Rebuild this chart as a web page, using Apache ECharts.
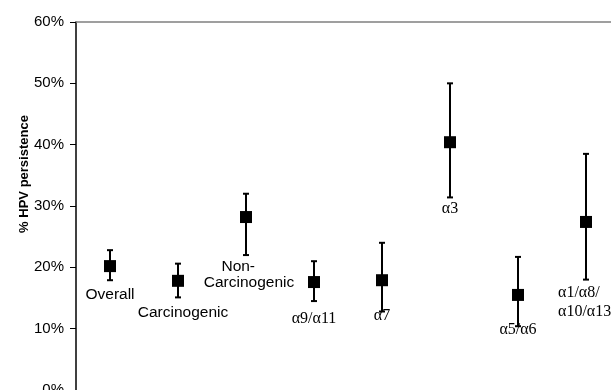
<!DOCTYPE html>
<html>
<head>
<meta charset="utf-8">
<script src="https://cdn.jsdelivr.net/npm/echarts@6/dist/echarts.min.js"></script>
<style>html,body{margin:0;padding:0;background:#fff}#c{width:611px;height:390px}</style>
</head>
<body>
<div id="c"></div>
<script>
var categories = ['Overall','Carcinogenic','Non-Carcinogenic','α9/α11','α7','α3','α5/α6','α1/α8/α10/α13'];
var estimate = [20.2, 17.8, 28.2, 17.6, 17.9, 40.4, 15.5, 27.4];
var lower    = [17.9, 15.1, 22.0, 14.5, 12.8, 31.4, 10.4, 18.0];
var upper    = [22.8, 20.6, 32.0, 21.0, 24.0, 50.0, 21.7, 38.5];
var labelText = ['Overall','Carcinogenic','Non-     \nCarcinogenic','α9/α11','α7','α3','α5/α6','α1/α8/\nα10/α13'];
var yTicks = [0, 10, 20, 30, 40, 50, 60];

var sans = 'Liberation Sans, Arial, sans-serif';
var serif = 'Liberation Serif, Times New Roman, serif';
var labelStyle = [
  {offset:[0,29], font:sans, align:'center'},
  {offset:[5,32], font:sans, align:'center'},
  {offset:[3,58], font:sans, align:'center', lh:16},
  {offset:[0,37], font:serif, align:'center'},
  {offset:[0,36], font:serif, align:'center'},
  {offset:[0,67], font:serif, align:'center'},
  {offset:[0,35], font:serif, align:'center'},
  {offset:[-28,80], font:serif, align:'left', lh:19}
];

var pointData = categories.map(function(c, i){
  var ls = labelStyle[i];
  return {
    value: [c, estimate[i]],
    label: {
      show: true,
      formatter: labelText[i],
      position: 'inside',
      offset: ls.offset,
      align: ls.align,
      verticalAlign: 'middle',
      fontFamily: ls.font,
      fontSize: ls.font === serif ? 16 : 15.5,
      lineHeight: ls.lh || 18,
      color: '#000'
    }
  };
});
var barData = categories.map(function(c, i){ return [i, lower[i], upper[i]]; });

var chart = echarts.init(document.getElementById('c'), null, {renderer:'canvas'});
chart.setOption({
  animation: false,
  backgroundColor: '#fff',
  grid: {left: 76, top: 22, right: -9, bottom: 0, containLabel: false, outerBoundsMode: 'none'},
  xAxis: [{
    type: 'category', data: categories, position: 'bottom',
    axisLine: {show: false}, axisTick: {show: false}, axisLabel: {show: false}, splitLine: {show: false}
  }, {
    type: 'category', data: categories, position: 'top',
    axisLine: {show: true, lineStyle: {color: '#808080', width: 1.5}},
    axisTick: {show: false}, axisLabel: {show: false}, splitLine: {show: false}
  }],
  yAxis: {
    type: 'value', min: 0, max: 60, interval: 10,
    name: '% HPV persistence', nameLocation: 'middle', nameGap: 45, nameRotate: 90,
    nameMoveOverlap: false,
    nameTextStyle: {fontFamily: sans, fontWeight: 'bold', fontSize: 13, color: '#000', padding: [0, 0, 0, 64]},
    axisLine: {show: true, lineStyle: {color: '#000', width: 1.5}},
    axisTick: {show: true, length: 6, lineStyle: {color: '#000', width: 1}},
    axisLabel: {fontFamily: sans, fontSize: 15, color: '#000', margin: 12,
      formatter: function(v){ return v + '%'; }},
    splitLine: {show: false}
  },
  series: [{
    type: 'custom',
    xAxisIndex: 0,
    data: barData,
    renderItem: function(params, api){
      var x = api.value(0);
      var lo = api.coord([x, api.value(1)]);
      var hi = api.coord([x, api.value(2)]);
      var cw = 3;
      var st = {stroke: '#000', lineWidth: 2};
      return {type: 'group', children: [
        {type: 'line', shape: {x1: lo[0], y1: lo[1], x2: hi[0], y2: hi[1]}, style: st},
        {type: 'line', shape: {x1: hi[0]-cw, y1: hi[1], x2: hi[0]+cw, y2: hi[1]}, style: st},
        {type: 'line', shape: {x1: lo[0]-cw, y1: lo[1], x2: lo[0]+cw, y2: lo[1]}, style: st}
      ]};
    },
    z: 2
  }, {
    type: 'scatter',
    xAxisIndex: 0,
    symbol: 'rect', symbolSize: 12,
    itemStyle: {color: '#000', opacity: 1},
    data: pointData,
    z: 3
  }]
});
</script>
</body>
</html>
